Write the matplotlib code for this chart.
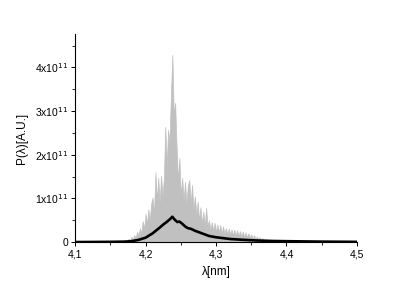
import matplotlib
matplotlib.use("Agg")
import matplotlib.pyplot as plt
import numpy as np
from matplotlib.ticker import MultipleLocator

plt.rcParams['font.family'] = ['Liberation Sans', 'DejaVu Sans']

# gray spectrum, 1e11 units, lambda grid 4.170 .. 4.410 step 0.002
lam_gray = np.round(np.arange(4.170, 4.4101, 0.002), 3)
p_gray = [0.02, 0.05, 0.02, 0.08, 0.04, 0.12, 0.06, 0.16, 0.09, 0.24,
          0.14, 0.32, 0.20, 0.48, 0.30, 0.65, 0.42, 0.75, 0.50, 0.88,
          1.02, 0.65, 1.60, 0.95, 1.47, 0.90, 1.52, 1.05, 1.45, 2.64,
          1.75, 2.57, 2.30, 3.37, 4.29, 2.90, 3.19, 2.22, 1.40, 1.93,
          1.05, 1.47, 0.95, 1.38, 0.85, 1.30, 1.42, 0.90, 1.31, 0.75,
          1.05, 0.62, 0.92, 0.50, 0.80, 0.42, 0.70, 0.38, 0.78, 0.36,
          0.50, 0.28, 0.46, 0.26, 0.44, 0.24, 0.40, 0.22, 0.39, 0.20,
          0.36, 0.19, 0.32, 0.18, 0.31, 0.17, 0.29, 0.16, 0.28, 0.15,
          0.27, 0.14, 0.25, 0.13, 0.24, 0.12, 0.22, 0.11, 0.20, 0.10,
          0.18, 0.08, 0.16, 0.07, 0.13, 0.06, 0.11, 0.05, 0.09, 0.04,
          0.07, 0.04, 0.06, 0.03, 0.05, 0.02, 0.04, 0.02, 0.03, 0.02,
          0.02, 0.02, 0.01, 0.01, 0.01, 0.01, 0.005, 0.005, 0.0, 0.0,
          0.0]

# smoothed spectrum (black)
lam_black = [4.10, 4.15, 4.17, 4.18, 4.19, 4.20, 4.21, 4.22, 4.225, 4.23,
             4.235, 4.238, 4.241, 4.245, 4.248, 4.252, 4.256, 4.26, 4.265, 4.27,
             4.28, 4.29, 4.30, 4.32, 4.34, 4.36, 4.38, 4.40, 4.45, 4.50]
p_black = [0.0, 0.005, 0.01, 0.02, 0.05, 0.10, 0.20, 0.33, 0.40, 0.46,
           0.53, 0.58, 0.52, 0.46, 0.47, 0.42, 0.36, 0.32, 0.30, 0.26,
           0.20, 0.14, 0.11, 0.07, 0.05, 0.035, 0.025, 0.02, 0.01, 0.005]

xticks = [4.1, 4.2, 4.3, 4.4, 4.5]
xlabels = ["4,1", "4,2", "4,3", "4,4", "4,5"]
yticks = [0, 1, 2, 3, 4]
ylabels = ["0", "1x10$^{11}$", "2x10$^{11}$", "3x10$^{11}$", "4x10$^{11}$"]

fig = plt.figure(figsize=(4.15, 2.92), dpi=100)
ax = fig.add_axes([0.181, 0.171, 0.679, 0.713])

ax.fill_between(lam_gray, p_gray, 0, color="#c0c0c0", linewidth=0.5, edgecolor="#c0c0c0")
ax.plot(lam_black, p_black, color="black", lw=1.9)

ax.set_xlim(4.1, 4.5)
ax.set_ylim(0, 4.77)
ax.set_xticks(xticks)
ax.set_xticklabels(xlabels)
ax.set_yticks(yticks)
ax.set_yticklabels(ylabels)
ax.xaxis.set_minor_locator(MultipleLocator(0.05))
ax.yaxis.set_minor_locator(MultipleLocator(0.5))

for s in ["top", "right"]:
    ax.spines[s].set_visible(False)
for s in ["left", "bottom"]:
    ax.spines[s].set_linewidth(0.8)

ax.tick_params(which="major", direction="out", length=3, width=0.7, labelsize=7.5, pad=2)
ax.tick_params(which="minor", direction="out", length=2, width=0.6)

ax.set_xlabel("λ[nm]", fontsize=8.5, labelpad=5)
ax.set_ylabel("P(λ)[A.U.]", fontsize=8.5, labelpad=5)

fig.savefig("out.png", dpi=100)
